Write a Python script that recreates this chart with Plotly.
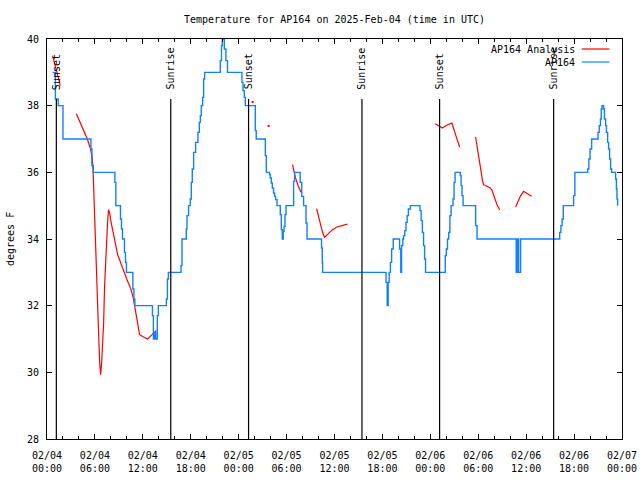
import plotly.graph_objects as go

# ---------------- data (hours since 2025-02-04 00:00 UTC, degrees F) ----------------
# AP164 observations (step series)
obs_hours = [0.70, 1.05, 1.40, 2.00, 5.50, 5.62, 5.80, 8.50, 8.62, 9.20, 9.33, 9.45, 9.70, 9.83,
             9.95, 10.75, 10.88, 11.00, 13.20, 13.32, 13.45, 13.60, 13.81, 13.94, 14.95, 15.08,
             15.20, 16.78, 16.90, 17.44, 17.53, 17.73, 17.94, 18.07, 18.19, 18.36, 18.61, 18.90,
             19.07, 19.20, 19.32, 19.49, 19.61, 19.74, 21.70, 21.85, 21.95, 22.20, 22.40, 22.60,
             24.41, 24.54, 24.71, 24.83, 26.08, 26.20, 27.34, 27.46, 27.87, 27.96, 28.09, 28.21,
             28.37, 28.50, 28.63, 28.80, 29.21, 29.34, 29.46, 29.59, 29.68, 29.80, 29.93, 30.88,
             31.00, 31.70, 31.90, 32.13, 32.43, 32.56, 34.38, 34.47, 34.51, 42.45, 42.60, 42.72,
             42.85, 43.00, 43.15, 43.35, 44.15, 44.30, 44.40, 44.55, 44.65, 44.80, 44.95, 45.10,
             45.25, 45.50, 46.70, 46.85, 47.00, 47.15, 47.28, 47.40, 49.87, 50.00, 50.15, 50.30,
             50.45, 50.60, 50.84, 50.97, 51.10, 51.75, 51.85, 51.97, 52.10, 53.67, 53.85, 58.75,
             58.90, 59.05, 59.30, 64.20, 64.35, 64.50, 64.65, 65.94, 66.10, 67.70, 67.85, 68.00,
             68.20, 69.00, 69.15, 69.30, 69.40, 69.50, 69.70, 69.80, 69.95, 70.05, 70.20, 70.32,
             70.45, 70.57, 70.70, 71.20, 71.30, 71.37, 71.45]
obs_temps = [39.0, 38.2, 38.0, 37.0, 36.7, 36.2, 36.0, 35.7, 35.0, 34.6, 34.3, 34.0, 33.6, 33.3,
             33.0, 32.5, 32.2, 32.0, 31.7, 31.0, 31.2, 31.0, 31.7, 32.0, 32.2, 32.8,
             33.0, 33.2, 34.0, 34.3, 34.7, 35.0, 35.2, 35.7, 36.1, 36.6, 36.9, 37.2,
             37.5, 37.7, 38.0, 38.25, 38.8, 39.0, 39.35, 39.8, 40.0, 39.7, 39.35, 39.0,
             38.7, 38.45, 38.25, 38.0, 37.25, 37.0, 36.5, 36.0, 35.93, 35.83, 35.68, 35.53,
             35.38, 35.28, 35.18, 35.0, 34.73, 34.28, 34.0, 34.23, 34.38, 34.73, 35.0, 35.73,
             36.0, 35.7, 35.28, 35.0, 34.48, 34.0, 33.73, 33.28, 33.0, 32.7, 32.0, 32.7,
             33.0, 33.3, 33.7, 34.0, 33.7, 33.0, 33.8, 34.0, 34.1, 34.25, 34.5, 34.7,
             34.9, 35.0, 34.85, 34.55, 34.2, 33.8, 33.4, 33.0, 33.5, 33.7, 34.0, 34.2,
             34.7, 35.0, 35.2, 35.7, 36.0, 35.9, 35.6, 35.3, 35.0, 34.4, 34.0, 33.0,
             34.0, 33.0, 34.0, 34.2, 34.4, 34.6, 35.0, 35.3, 36.0, 36.1, 36.4, 36.7,
             37.0, 37.2, 37.4, 37.6, 37.9, 38.0, 37.9, 37.6, 37.4, 37.2, 36.9, 36.7,
             36.4, 36.1, 36.0, 35.8, 35.5, 35.2, 35.0]

# AP164 Analysis (segments separated by None)
ana_hours = [0.70, 1.20, 1.67, None,
             3.67, 4.30, 5.00, 5.42, 5.63, 5.75, 5.85, 5.96, 6.09, 6.21, 6.34, 6.46, 6.59, 6.71,
             6.84, 7.09, 7.21, 7.34, 7.46, 7.59, 7.71, 7.84, 7.96, 8.34, 8.59, 8.84, 9.09, 9.34,
             9.59, 9.84, 10.09, 10.34, 10.59, 10.84, 11.09, 11.34, 11.59, 12.10, 12.60, 12.94,
             13.35, 13.69, None,
             25.75, None,
             27.75, None,
             30.75, 31.10, 31.45, 31.80, None,
             33.76, 34.00, 34.26, 34.50, 34.76, 35.06, 35.39, 35.76, 36.30, 36.95, 37.64, None,
             48.62, 49.10, 49.50, 50.10, 50.70, 51.20, 51.67, None,
             53.67, 53.97, 54.26, 54.55, 54.67, 55.20, 55.51, 55.72, 56.35, 56.68, None,
             58.68, 59.27, 59.68, 60.10, 60.68]
ana_temps = [39.5, 39.05, 38.6, None,
             37.76, 37.4, 37.03, 36.73, 36.48, 36.2, 35.4, 34.53, 33.68, 32.88, 32.03, 31.18, 30.33, 29.93,
             30.28, 31.48, 32.58, 33.33, 33.93, 34.53, 34.88, 34.78, 34.58, 34.08, 33.78, 33.53, 33.38, 33.2,
             33.03, 32.88, 32.73, 32.6, 32.43, 32.18, 31.78, 31.43, 31.13, 31.06, 31.0, 31.08,
             31.18, 31.26, None,
             38.11, None,
             37.39, None,
             36.23, 35.85, 35.6, 35.4, None,
             34.91, 34.68, 34.43, 34.2, 34.05, 34.13, 34.2, 34.28, 34.36, 34.4, 34.45, None,
             37.46, 37.4, 37.33, 37.42, 37.48, 37.1, 36.76, None,
             37.06, 36.58, 36.18, 35.73, 35.63, 35.57, 35.53, 35.46, 35.03, 34.88, None,
             34.96, 35.28, 35.43, 35.36, 35.28]

sun_hours = [1.17, 15.50, 25.24, 39.44, 49.16, 63.44]
sun_names = ["Sunset", "Sunrise", "Sunset", "Sunrise", "Sunset", "Sunrise"]

x_tick_hours = [0, 6, 12, 18, 24, 30, 36, 42, 48, 54, 60, 66, 72]
x_tick_labels = ["02/04<br>00:00", "02/04<br>06:00", "02/04<br>12:00", "02/04<br>18:00",
                 "02/05<br>00:00", "02/05<br>06:00", "02/05<br>12:00", "02/05<br>18:00",
                 "02/06<br>00:00", "02/06<br>06:00", "02/06<br>12:00", "02/06<br>18:00",
                 "02/07<br>00:00"]
y_ticks = [28, 30, 32, 34, 36, 38, 40]

RED = "#ff0000"
BLUE = "#1080ff"
FONT = "DejaVu Sans Mono"

# isolated analysis points (no neighbours) drawn as dots
iso_x, iso_y = [], []
for i, v in enumerate(ana_temps):
    if v is None:
        continue
    prev_none = i == 0 or ana_temps[i - 1] is None
    next_none = i == len(ana_temps) - 1 or ana_temps[i + 1] is None
    if prev_none and next_none:
        iso_x.append(ana_hours[i])
        iso_y.append(v)

fig = go.Figure()
fig.add_trace(go.Scatter(x=ana_hours, y=ana_temps, mode="lines", name="AP164 Analysis",
                         line=dict(color=RED, width=1.2), connectgaps=False))
fig.add_trace(go.Scatter(x=iso_x, y=iso_y, mode="markers", showlegend=False,
                         marker=dict(color=RED, size=2, symbol="square")))
fig.add_trace(go.Scatter(x=obs_hours, y=obs_temps, mode="lines", name="AP164",
                         line=dict(color=BLUE, width=1.4, shape="hv")))

shapes = []
annotations = []
for h, name in zip(sun_hours, sun_names):
    shapes.append(dict(type="line", xref="x", yref="paper", x0=h, x1=h, y0=0, y1=0.85,
                       line=dict(color="black", width=1.2)))
    annotations.append(dict(x=h, y=0.868, xref="x", yref="paper", text=name, textangle=-90,
                            showarrow=False, xanchor="center", yanchor="bottom",
                            font=dict(family=FONT, size=10, color="black")))

# legend drawn gnuplot-style (text right-aligned, sample on the right)
legend_rows = [("AP164 Analysis", RED, 0.975), ("AP164", BLUE, 0.9425)]
for text, col, yy in legend_rows:
    annotations.append(dict(x=0.921, y=yy, xref="paper", yref="paper", text=text,
                            showarrow=False, xanchor="right", yanchor="middle",
                            font=dict(family=FONT, size=10, color="black")))
    shapes.append(dict(type="line", xref="paper", yref="paper", x0=0.930, x1=0.978,
                       y0=yy, y1=yy, line=dict(color=col, width=1.2)))

annotations.append(dict(x=0, y=0.5, xref="paper", yref="paper", text="degrees F",
                        textangle=-90, showarrow=False, xshift=-37, xanchor="center",
                        yanchor="middle", font=dict(family=FONT, size=10, color="black")))

fig.update_layout(
    width=640, height=480,
    margin=dict(l=47, r=18, t=39, b=41, autoexpand=False),
    paper_bgcolor="white", plot_bgcolor="white",
    showlegend=False,
    font=dict(family=FONT, size=10, color="black"),
    title=dict(text="Temperature for AP164 on 2025-Feb-04 (time in UTC)", x=0.5, xref="paper",
               xanchor="center", y=1 - 19 / 480, yref="container", yanchor="middle",
               font=dict(family=FONT, size=10, color="black")),
    shapes=shapes, annotations=annotations,
)
fig.update_xaxes(range=[0, 72], tickmode="array", tickvals=x_tick_hours, ticktext=x_tick_labels,
                 ticks="inside", ticklen=5, tickcolor="black", showline=True, linecolor="black",
                 linewidth=1, mirror="ticks", showgrid=False, zeroline=False, automargin=False,
                 ticklabelstandoff=7,
                 minor=dict(tickmode="linear", tick0=0, dtick=2, ticks="inside", ticklen=3,
                            tickcolor="black", showgrid=False),
                 tickfont=dict(family=FONT, size=10, color="black"))
fig.update_yaxes(range=[28, 40], tickmode="array", tickvals=y_ticks,
                 ticks="inside", ticklen=5, tickcolor="black", showline=True, linecolor="black",
                 linewidth=1, mirror="ticks", showgrid=False, zeroline=False, automargin=False,
                 ticklabelstandoff=5,
                 tickfont=dict(family=FONT, size=10, color="black"))

fig.write_html("out.html", config={"displayModeBar": False},
               post_script="document.body.style.margin='0px';")
